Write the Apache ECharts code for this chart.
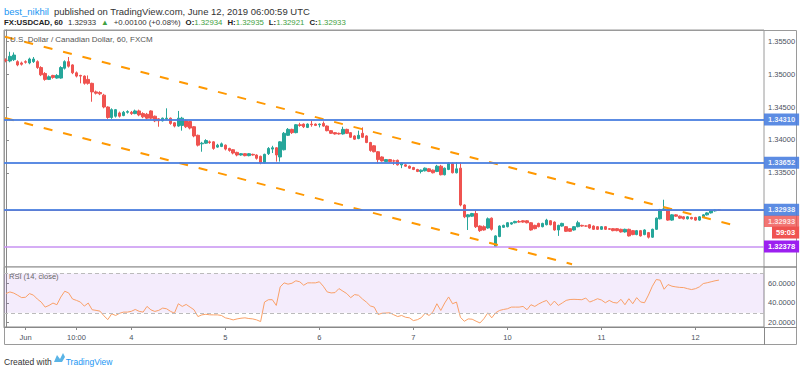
<!DOCTYPE html>
<html><head><meta charset="utf-8">
<script src="https://cdn.jsdelivr.net/npm/echarts@6/dist/echarts.min.js"></script>
<style>html,body{margin:0;padding:0;background:#fff}#c{width:800px;height:368px}</style>
</head><body><div id="c"></div>
<script>
// ---- data ----
const xTickIdx = [5, 18, 32, 56, 80, 104, 128, 152, 176];
const xTickText = ['Jun', '10:00', '4', '5', '6', '7', '10', '11', '12'];
const priceTicks = [1.335, 1.340, 1.345, 1.350, 1.355];
const rsiTicks = [20, 40, 60];
const blueLevels = [1.34310, 1.33652, 1.32938];
const purpleLevel = 1.32378;
const lastPrice = 1.32933;
const countdown = '59:03';
const upperTrend = [[-0.25, 1.35568], [186.6, 1.32690]];
const lowerTrend = [[-0.25, 1.34333], [144.5, 1.32110]];
const rsiBand = [30, 70];
// hourly candles: [open, close, low, high]
const ohlc = [
[1.3521,1.3521,1.3518,1.3524],[1.3520,1.3527,1.3518,1.3534],[1.3522,1.3529,1.3520,1.3533],[1.3519,1.3514,1.3512,1.3521],
[1.3517,1.3515,1.3513,1.3519],[1.3519,1.3518,1.3516,1.3521],[1.3517,1.3523,1.3515,1.3525],[1.3519,1.3523,1.3517,1.3526],
[1.3519,1.3510,1.3508,1.3521],[1.3510,1.3499,1.3497,1.3512],[1.3501,1.3492,1.3490,1.3503],[1.3492,1.3496,1.3491,1.3498],
[1.3498,1.3495,1.3493,1.3499],[1.3494,1.3498,1.3493,1.3500],[1.3494,1.3510,1.3493,1.3512],[1.3509,1.3519,1.3507,1.3521],
[1.3519,1.3512,1.3510,1.3526],[1.3514,1.3502,1.3500,1.3515],[1.3502,1.3497,1.3495,1.3504],[1.3498,1.3497,1.3486,1.3499],
[1.3497,1.3486,1.3484,1.3498],[1.3492,1.3486,1.3484,1.3498],[1.3486,1.3473,1.3458,1.3487],[1.3473,1.3471,1.3469,1.3475],
[1.3472,1.3470,1.3468,1.3474],[1.3468,1.3450,1.3448,1.3470],[1.3450,1.3434,1.3432,1.3451],[1.3434,1.3446,1.3432,1.3448],
[1.3436,1.3446,1.3434,1.3447],[1.3441,1.3436,1.3434,1.3443],[1.3437,1.3442,1.3436,1.3444],[1.3442,1.3443,1.3440,1.3445],
[1.3442,1.3440,1.3438,1.3444],[1.3440,1.3444,1.3439,1.3446],[1.3444,1.3438,1.3436,1.3446],[1.3440,1.3435,1.3433,1.3442],
[1.3439,1.3433,1.3431,1.3441],[1.3444,1.3433,1.3431,1.3445],[1.3436,1.3429,1.3427,1.3437],[1.3432,1.3429,1.3420,1.3433],
[1.3429,1.3433,1.3428,1.3434],[1.3432,1.3433,1.3430,1.3448],[1.3433,1.3425,1.3423,1.3434],[1.3426,1.3421,1.3419,1.3427],
[1.3421,1.3433,1.3420,1.3444],[1.3422,1.3433,1.3414,1.3435],[1.3429,1.3420,1.3418,1.3431],[1.3428,1.3418,1.3416,1.3429],
[1.3420,1.3406,1.3404,1.3421],[1.3407,1.3392,1.3390,1.3408],[1.3394,1.3395,1.3382,1.3397],[1.3395,1.3399,1.3394,1.3401],
[1.3397,1.3396,1.3394,1.3399],[1.3397,1.3387,1.3385,1.3398],[1.3389,1.3392,1.3388,1.3394],[1.3390,1.3394,1.3389,1.3396],
[1.3392,1.3386,1.3384,1.3393],[1.3387,1.3384,1.3382,1.3388],[1.3385,1.3380,1.3378,1.3386],[1.3381,1.3377,1.3375,1.3382],
[1.3377,1.3379,1.3376,1.3380],[1.3379,1.3376,1.3375,1.3380],[1.3376,1.3379,1.3375,1.3380],[1.3378,1.3377,1.3376,1.3379],
[1.3377,1.3372,1.3370,1.3378],[1.3375,1.3365,1.3363,1.3376],[1.3365,1.3378,1.3364,1.3379],[1.3379,1.3387,1.3377,1.3389],
[1.3386,1.3388,1.3380,1.3391],[1.3388,1.3377,1.3367,1.3389],[1.3374,1.3397,1.3367,1.3398],[1.3385,1.3410,1.3384,1.3412],
[1.3407,1.3416,1.3406,1.3418],[1.3416,1.3411,1.3409,1.3417],[1.3411,1.3423,1.3410,1.3424],[1.3423,1.3422,1.3420,1.3426],
[1.3424,1.3420,1.3418,1.3425],[1.3419,1.3424,1.3418,1.3425],[1.3424,1.3423,1.3420,1.3429],[1.3424,1.3422,1.3421,1.3425],
[1.3423,1.3424,1.3419,1.3425],[1.3425,1.3421,1.3420,1.3428],[1.3421,1.3414,1.3413,1.3422],[1.3414,1.3410,1.3409,1.3415],
[1.3411,1.3409,1.3408,1.3412],[1.3410,1.3409,1.3408,1.3411],[1.3409,1.3416,1.3408,1.3420],[1.3416,1.3410,1.3409,1.3417],
[1.3411,1.3404,1.3403,1.3412],[1.3406,1.3401,1.3400,1.3407],[1.3402,1.3407,1.3401,1.3414],[1.3410,1.3404,1.3403,1.3419],
[1.3406,1.3396,1.3395,1.3407],[1.3396,1.3384,1.3382,1.3397],[1.3391,1.3382,1.3381,1.3392],[1.3382,1.3370,1.3364,1.3383],
[1.3374,1.3368,1.3367,1.3375],[1.3367,1.3370,1.3366,1.3371],[1.3370,1.3367,1.3366,1.3371],[1.3368,1.3368,1.3362,1.3370],
[1.3369,1.3362,1.3361,1.3370],[1.3362,1.3365,1.3357,1.3366],[1.3362,1.3360,1.3359,1.3363],[1.3360,1.3357,1.3356,1.3361],
[1.3358,1.3355,1.3354,1.3359],[1.3355,1.3352,1.3351,1.3356],[1.3352,1.3354,1.3349,1.3355],[1.3353,1.3357,1.3352,1.3358],
[1.3356,1.3352,1.3351,1.3357],[1.3354,1.3350,1.3349,1.3355],[1.3352,1.3360,1.3351,1.3362],[1.3360,1.3347,1.3346,1.3362],
[1.3347,1.3357,1.3346,1.3358],[1.3355,1.3364,1.3354,1.3366],[1.3364,1.3350,1.3349,1.3366],[1.3350,1.3356,1.3349,1.3366],
[1.3357,1.3301,1.3299,1.3366],[1.3301,1.3283,1.3281,1.3302],[1.3283,1.3286,1.3263,1.3287],[1.3284,1.3288,1.3283,1.3289],
[1.3288,1.3268,1.3266,1.3293],[1.3269,1.3262,1.3260,1.3270],[1.3268,1.3263,1.3262,1.3270],[1.3266,1.3280,1.3265,1.3282],
[1.3281,1.3264,1.3262,1.3282],[1.3238,1.3254,1.3237,1.3255],[1.3253,1.3269,1.3252,1.3270],[1.3267,1.3270,1.3266,1.3271],
[1.3268,1.3274,1.3267,1.3275],[1.3272,1.3274,1.3271,1.3275],[1.3274,1.3276,1.3273,1.3277],[1.3276,1.3275,1.3274,1.3278],
[1.3277,1.3275,1.3274,1.3278],[1.3277,1.3274,1.3273,1.3278],[1.3274,1.3263,1.3262,1.3275],[1.3270,1.3265,1.3264,1.3271],
[1.3273,1.3268,1.3267,1.3274],[1.3268,1.3273,1.3267,1.3274],[1.3271,1.3278,1.3270,1.3280],[1.3277,1.3271,1.3270,1.3278],
[1.3275,1.3263,1.3262,1.3276],[1.3263,1.3270,1.3254,1.3271],[1.3269,1.3273,1.3268,1.3274],[1.3268,1.3261,1.3260,1.3269],
[1.3265,1.3261,1.3260,1.3266],[1.3263,1.3268,1.3262,1.3269],[1.3268,1.3274,1.3267,1.3277],[1.3270,1.3269,1.3268,1.3271],
[1.3269,1.3269,1.3268,1.3270],[1.3271,1.3266,1.3265,1.3272],[1.3269,1.3264,1.3263,1.3270],[1.3268,1.3264,1.3263,1.3269],
[1.3264,1.3268,1.3263,1.3269],[1.3268,1.3264,1.3263,1.3269],[1.3265,1.3264,1.3263,1.3266],[1.3265,1.3262,1.3261,1.3266],
[1.3265,1.3262,1.3261,1.3266],[1.3264,1.3260,1.3259,1.3265],[1.3260,1.3264,1.3259,1.3265],[1.3264,1.3254,1.3253,1.3265],
[1.3262,1.3256,1.3255,1.3263],[1.3256,1.3262,1.3255,1.3263],[1.3262,1.3254,1.3253,1.3263],[1.3256,1.3263,1.3255,1.3264],
[1.3259,1.3252,1.3250,1.3260],[1.3252,1.3264,1.3251,1.3265],[1.3264,1.3281,1.3263,1.3282],[1.3280,1.3294,1.3279,1.3295],
[1.3293,1.3295,1.3292,1.3309],[1.3294,1.3278,1.3277,1.3296],[1.3278,1.3286,1.3277,1.3287],[1.3286,1.3284,1.3283,1.3287],
[1.3284,1.3281,1.3280,1.3285],[1.3283,1.3280,1.3279,1.3284],[1.3280,1.3283,1.3279,1.3284],[1.3282,1.3280,1.3279,1.3283],
[1.3282,1.3278,1.3277,1.3283],[1.3278,1.3283,1.3277,1.3284],[1.3283,1.3286,1.3282,1.3287],[1.3286,1.3289,1.3285,1.3290],
[1.3289,1.3292,1.3288,1.3293],[1.3292,1.32934,1.3291,1.3294],[1.32934,1.32933,1.32921,1.32935]
];
const rsi = [
49.5,51.2,50,47.8,45.4,45.8,49.5,48,44,40.9,35.8,37.5,39.9,38.2,46,51.9,50.2,44,42.6,40.9,
36.8,39.9,33.1,32.5,31.7,27,23.1,29,27.3,29.5,30.7,30.7,31.5,33.4,31.5,30.7,36.5,33,31.4,32.5,
34.8,34.1,31.5,29.6,39.2,36.5,38.5,35.8,33.1,26.2,27.9,28.5,28,27.9,27.9,27.3,24.9,24,22.8,23.8,
24.5,24.9,24.2,23.8,22.8,21.1,40.9,43.3,43.3,37.5,56.3,60.4,59.1,60,62.5,61.5,58,60.4,60.4,60.4,
61.5,57,51.2,50.2,50.5,54.6,52,49.5,45.4,48.5,47.8,44,40.9,37,35.8,28.3,29.6,29.8,30,28,
26.2,27.3,25.5,24.9,22.1,23,25,29.6,27.3,31,39.2,32.4,40,46.1,39.2,40.9,25.5,21.4,23.8,23.5,
21.5,19.7,24,30,24.9,30,32.4,33.4,34.1,35.8,35.8,35.8,36.5,33.1,38.2,36.5,39,41,42.6,37.5,
41.9,37.5,40,42.6,43.5,43.7,43.5,43.3,45,40.9,42.5,44.3,43,40.2,42.6,40.5,39.9,43.7,38.2,44.3,
39.2,45.4,41,40.2,48,57,63.8,63.1,53.9,58.7,57,56.3,55.8,55.6,54.5,53.6,54.5,56.3,59.7,60.5,
61.5,62.5,63.2
];

// ---- chart ----
const FONT = "'Liberation Sans', Arial, sans-serif";
const UP = '#26a69a', DOWN = '#ef5350', BLUE = '#4a7fe0', PURPLE = '#9c1ff0';
const AXC = '#4c525e', FRAME = '#9a9a9a';
const chart = echarts.init(document.getElementById('c'), null, {renderer: 'svg', width: 800, height: 368});

const tagStyle = bg => ({backgroundColor: bg, color: '#fff', fontWeight: 'bold', fontSize: 7.5, fontFamily: FONT, padding: [2, 4, 2, 4]});
const tagLabel = (bg, extra) => Object.assign({
  show: true, position: 'end', distance: 0,
  formatter: p => '{t|' + p.value.toFixed(5) + '}',
  rich: {t: tagStyle(bg)}
}, extra || {});
const txt = (color, size, weight) => ({color: color, fontSize: size, fontWeight: weight || 'normal', fontFamily: FONT});

chart.setOption({
  animation: false,
  backgroundColor: '#fff',
  textStyle: {fontFamily: FONT},
  title: [
    {left: 4, top: 2, padding: 0, text: '{a|best_nikhil} {b|published on TradingView.com, June 12, 2019 06:00:59 UTC}',
     textStyle: {fontWeight: 'normal', rich: {a: txt('#2196f3', 9.5), b: txt('#333', 9.5)}}},
    {left: 4, top: 13, padding: 0,
     text: '{k|FX:USDCAD, 60} {n|1.32933} {g|▲} {n|+0.00100 (+0.08%)} {k|O:}{g|1.32934} {k|H:}{g|1.32935} {k|L:}{g|1.32921} {k|C:}{g|1.32933}',
     textStyle: {fontWeight: 'normal', rich: {k: txt('#222', 7.8, 'bold'), n: txt('#333', 7.8), g: txt('#3fa142', 7.8)}}},
    {left: 10, top: 35, padding: 0, text: 'U.S. Dollar / Canadian Dollar, 60, FXCM', textStyle: txt('#555', 8)},
    {left: 9, top: 272, padding: 0, text: 'RSI (14, close)', textStyle: txt('#666', 7.5)},
    {left: 4, top: 353, padding: 0, text: '{c|Created with}{s| }{t|TradingView}',
     textStyle: {fontWeight: 'normal', rich: {c: txt('#333', 8.5), s: {width: 14}, t: txt('#2196f3', 8.5)}}}
  ],
  graphic: [
    {type: 'rect', silent: true, shape: {x: 4.5, y: 30.5, width: 792, height: 314}, style: {fill: 'none', stroke: FRAME, lineWidth: 1}},
    {type: 'line', silent: true, shape: {x1: 764, y1: 267, x2: 797, y2: 267}, style: {stroke: '#888', lineWidth: 1.5}},
    {type: 'line', silent: true, shape: {x1: 4, y1: 327.5, x2: 797, y2: 327.5}, style: {stroke: '#888', lineWidth: 1}},
    {type: 'line', silent: true, shape: {x1: 764.5, y1: 327, x2: 764.5, y2: 345}, style: {stroke: '#888', lineWidth: 1}},
    {type: 'polygon', silent: true, shape: {points: [[54, 362], [57, 355], [60, 359], [63, 353], [65, 357], [62, 362]]}, style: {fill: '#5ab4e6'}}
  ],
  grid: [
    {left: 4, right: 36, top: 30, height: 237, show: true, borderColor: FRAME, borderWidth: 1, backgroundColor: '#fff'},
    {left: 4, right: 36, top: 267, height: 60, show: true, borderColor: '#888', borderWidth: 1, backgroundColor: '#fff'}
  ],
  xAxis: [
    {type: 'value', gridIndex: 0, min: -0.5, max: 193.5, axisLine: {show: false}, axisTick: {show: false}, axisLabel: {show: false}, splitLine: {show: false}},
    {type: 'value', gridIndex: 1, min: -0.5, max: 193.5,
     axisLine: {show: true, lineStyle: {color: '#888'}},
     axisTick: {show: true, customValues: xTickIdx, length: 3, lineStyle: {color: '#888'}},
     axisLabel: {customValues: xTickIdx, formatter: v => xTickText[xTickIdx.indexOf(v)], color: AXC, fontSize: 7.5, margin: 6, fontFamily: FONT},
     splitLine: {show: false}}
  ],
  yAxis: [
    {type: 'value', gridIndex: 0, position: 'right', min: 1.32067, max: 1.35671,
     axisLine: {show: true, lineStyle: {color: '#888'}},
     axisTick: {show: true, customValues: priceTicks, length: 3, lineStyle: {color: '#888'}},
     axisLabel: {customValues: priceTicks, formatter: v => v.toFixed(5), color: AXC, fontSize: 7.5, margin: 4, fontFamily: FONT},
     splitLine: {show: false}},
    {type: 'value', gridIndex: 1, position: 'right', min: 15.6, max: 76.5,
     axisLine: {show: true, lineStyle: {color: '#888'}},
     axisTick: {show: true, customValues: rsiTicks, length: 3, lineStyle: {color: '#888'}},
     axisLabel: {customValues: rsiTicks, formatter: v => v.toFixed(4), color: AXC, fontSize: 7.5, margin: 4, fontFamily: FONT},
     splitLine: {show: false}}
  ],
  series: [
    {type: 'candlestick', xAxisIndex: 0, yAxisIndex: 0, barWidth: 3,
     data: ohlc.map((d, i) => [i, d[0], d[1], d[2], d[3]]),
     itemStyle: {color: UP, color0: DOWN, borderColor: UP, borderColor0: DOWN, borderColorDoji: DOWN, borderWidth: 1}},
    {type: 'line', xAxisIndex: 0, yAxisIndex: 0, data: upperTrend, symbol: 'none', silent: true, z: 3,
     lineStyle: {color: '#ff9800', width: 2, type: [9, 11]}},
    {type: 'line', xAxisIndex: 0, yAxisIndex: 0, data: lowerTrend, symbol: 'none', silent: true, z: 3,
     lineStyle: {color: '#ff9800', width: 2, type: [9, 11]}},
    {type: 'line', xAxisIndex: 0, yAxisIndex: 0, data: [], silent: true, z: 4,
     markLine: {symbol: ['none', 'none'], silent: true, animation: false, precision: 5,
       data: [
         {yAxis: lastPrice, lineStyle: {color: 'rgba(0,0,0,0)', width: 1},
          label: tagLabel(DOWN, {distance: 8, formatter: () => '{e| }\n{t|' + countdown + '}', rich: {e: {height: 45, lineHeight: 45, fontSize: 2}, t: tagStyle(DOWN)}})},
         {yAxis: lastPrice, lineStyle: {color: DOWN, width: 1, type: 'solid', opacity: 0.8},
          label: tagLabel(DOWN, {formatter: p => '{e| }\n{t|' + p.value.toFixed(5) + '}', rich: {e: {height: 22, lineHeight: 22, fontSize: 2}, t: tagStyle(DOWN)}})},
         ...blueLevels.map(v => ({yAxis: v, lineStyle: {color: BLUE, width: 2, type: 'solid', opacity: 0.9}, label: tagLabel(BLUE)})),
         {yAxis: purpleLevel, lineStyle: {color: '#c792f2', width: 1.5, type: 'solid'}, label: tagLabel(PURPLE)}
       ]}},
    {type: 'line', xAxisIndex: 1, yAxisIndex: 1, data: rsi.map((v, i) => [i, v]), symbol: 'none', silent: true, z: 3,
     lineStyle: {color: '#f9a068', width: 1},
     markArea: {silent: true, itemStyle: {color: 'rgba(156, 80, 230, 0.11)'}, data: [[{yAxis: rsiBand[0]}, {yAxis: rsiBand[1]}]]},
     markLine: {symbol: ['none', 'none'], silent: true, label: {show: false},
       lineStyle: {color: '#bbb', width: 1, type: [4, 3]}, data: rsiBand.map(v => ({yAxis: v}))}}
  ]
});
</script></body></html>
